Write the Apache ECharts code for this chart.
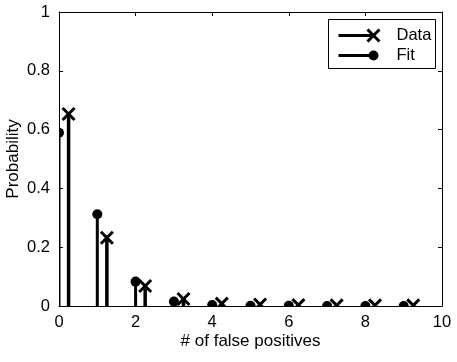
<!DOCTYPE html>
<html>
<head>
<meta charset="utf-8">
<script src="https://cdn.jsdelivr.net/npm/echarts@6/dist/echarts.min.js"></script>
<style>
  html, body { margin: 0; padding: 0; background: #fff; }
  #chart { width: 457px; height: 362px; }
</style>
</head>
<body>
<div id="chart"></div>
<script>
// counts of false positives
const fpCounts = [0, 1, 2, 3, 4, 5, 6, 7, 8, 9];
// measured probabilities (drawn shifted right by 0.25)
const dataProb = [0.653, 0.232, 0.068, 0.024, 0.008, 0.005, 0.003, 0.002, 0.002, 0.002];
// fitted probabilities
const fitProb = [0.589, 0.312, 0.083, 0.015, 0.003, 0.001, 0.0005, 0.0003, 0.0002, 0.0001];
const dataShift = 0.25;

const FONT = "'Liberation Sans', Arial, sans-serif";

const chart = echarts.init(document.getElementById("chart"), null, { renderer: "canvas" });

function stem(kind) {
  return function (params, api) {
    const x = api.value(0);
    const y = api.value(1);
    const top = api.coord([x, y]);
    const base = api.coord([x, 0]);
    const children = [{
      type: "line",
      shape: { x1: base[0], y1: base[1], x2: top[0], y2: top[1] },
      style: { stroke: "#000", lineWidth: kind === "x" ? 3.5 : 3 }
    }];
    if (kind === "x") {
      const r = 6;
      children.push({
        type: "line",
        shape: { x1: top[0] - r, y1: top[1] - r, x2: top[0] + r, y2: top[1] + r },
        style: { stroke: "#000", lineWidth: 3 }
      }, {
        type: "line",
        shape: { x1: top[0] - r, y1: top[1] + r, x2: top[0] + r, y2: top[1] - r },
        style: { stroke: "#000", lineWidth: 3 }
      });
    } else {
      children.push({
        type: "circle",
        shape: { cx: top[0], cy: top[1], r: 5 },
        style: { fill: "#000" }
      });
    }
    return { type: "group", children: children };
  };
}

const axisCommon = {
  axisLine: { show: true, onZero: false, lineStyle: { color: "#000", width: 1 } },
  axisTick: { show: true, inside: true, length: 4, lineStyle: { color: "#000" } },
  splitLine: { show: false }
};

const option = {
  animation: false,
  backgroundColor: "#fff",
  textStyle: { fontFamily: FONT },
  grid: { left: 59, right: 15, top: 12, bottom: 56, containLabel: false, outerBoundsMode: "none" },
  xAxis: [
    Object.assign({
      type: "value", min: 0, max: 10, interval: 2,
      name: "# of false positives", nameLocation: "middle", nameGap: 27, nameMoveOverlap: false,
      nameTextStyle: { fontSize: 17, color: "#000", fontFamily: FONT },
      axisLabel: { fontSize: 16.5, color: "#000", margin: 8, fontFamily: FONT }
    }, axisCommon),
    Object.assign({
      type: "value", min: 0, max: 10, interval: 2, position: "top",
      axisLabel: { show: false }
    }, axisCommon)
  ],
  yAxis: [
    Object.assign({
      type: "value", min: 0, max: 1, interval: 0.2,
      name: "Probability", nameLocation: "middle", nameGap: 37, nameMoveOverlap: false,
      nameTextStyle: { fontSize: 17, color: "#000", fontFamily: FONT },
      axisLabel: { fontSize: 16.5, color: "#000", margin: 9, fontFamily: FONT }
    }, axisCommon),
    Object.assign({
      type: "value", min: 0, max: 1, interval: 0.2, position: "right",
      axisLabel: { show: false }
    }, axisCommon)
  ],
  series: [
    {
      name: "Data",
      type: "custom",
      clip: true,
      renderItem: stem("x"),
      encode: { x: 0, y: 1 },
      data: fpCounts.map((c, i) => [c + dataShift, dataProb[i]])
    },
    {
      name: "Fit",
      type: "custom",
      clip: true,
      renderItem: stem("o"),
      encode: { x: 0, y: 1 },
      data: fpCounts.map((c, i) => [c, fitProb[i]])
    }
  ],
  graphic: [
    {
      type: "group", left: 328, top: 19,
      children: [
        { type: "rect", shape: { x: 0, y: 0, width: 107, height: 49 },
          style: { fill: "#fff", stroke: "#000", lineWidth: 1 } },
        { type: "line", shape: { x1: 10, y1: 16, x2: 45, y2: 16 },
          style: { stroke: "#000", lineWidth: 3 } },
        { type: "line", shape: { x1: 39, y1: 10, x2: 51, y2: 22 },
          style: { stroke: "#000", lineWidth: 3 } },
        { type: "line", shape: { x1: 39, y1: 22, x2: 51, y2: 10 },
          style: { stroke: "#000", lineWidth: 3 } },
        { type: "text", x: 68, y: 16,
          style: { text: "Data", fill: "#000", font: "16.5px " + FONT, textVerticalAlign: "middle" } },
        { type: "line", shape: { x1: 10, y1: 36, x2: 45, y2: 36 },
          style: { stroke: "#000", lineWidth: 3 } },
        { type: "circle", shape: { cx: 45, cy: 36, r: 5 }, style: { fill: "#000" } },
        { type: "text", x: 68, y: 36,
          style: { text: "Fit", fill: "#000", font: "16.5px " + FONT, textVerticalAlign: "middle" } }
      ]
    }
  ]
};

chart.setOption(option);
window.addEventListener("resize", chart.resize);
</script>
</body>
</html>
